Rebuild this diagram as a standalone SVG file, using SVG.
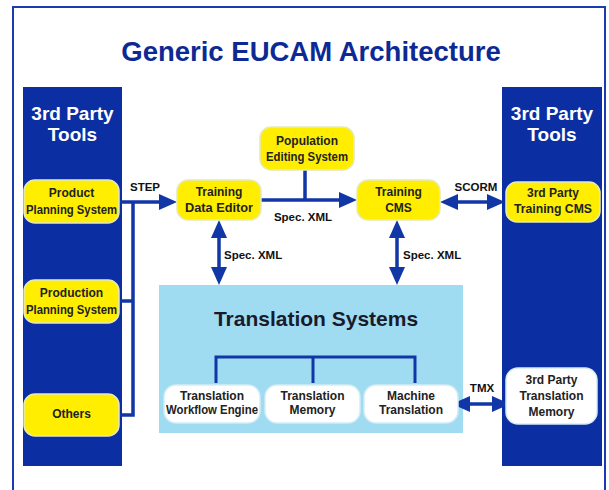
<svg xmlns="http://www.w3.org/2000/svg" width="609" height="490" viewBox="0 0 609 490">
<defs>
<style>
.panel{fill:#0b2fa3}
.ybox{fill:#ffee00;stroke:#e6e9b8;stroke-width:1.5}
.wbox{fill:#ffffff;stroke:#d4ecf6;stroke-width:1.5}
.lbl{font-family:"Liberation Sans",Arial,sans-serif;font-weight:bold;font-size:12px;fill:#222;text-anchor:middle}
.ptitle{font-family:"Liberation Sans",Arial,sans-serif;font-weight:bold;font-size:19px;fill:#ffffff;text-anchor:middle}
.clbl{font-family:"Liberation Sans",Arial,sans-serif;font-weight:bold;font-size:11.5px;fill:#111}
.ln{stroke:#1136a6;stroke-width:3.5;fill:none}
.thin{stroke:#1136a6;stroke-width:3;fill:none}
</style>
<marker id="ah" markerUnits="userSpaceOnUse" markerWidth="18" markerHeight="16" viewBox="0 0 18 16" refX="4" refY="8" orient="auto-start-reverse">
<path d="M0,0 L18,8 L0,16 z" fill="#1136a6"/>
</marker>
</defs>
<rect x="0" y="0" width="609" height="490" fill="#ffffff"/>
<rect x="13" y="7" width="592" height="495" fill="none" stroke="#1a3cb0" stroke-width="2"/>
<text x="311" y="61" font-family="Liberation Sans,Arial,sans-serif" font-weight="bold" font-size="27.5" fill="#0d2a94" text-anchor="middle">Generic EUCAM Architecture</text>

<g id="left-panel">
<rect class="panel" x="23" y="87" width="99" height="379"/>
<text class="ptitle" x="72.5" y="120">3rd Party</text>
<text class="ptitle" x="72.5" y="141">Tools</text>
</g>
<g id="right-panel">
<rect class="panel" x="502" y="87" width="100" height="379"/>
<text class="ptitle" x="552" y="120">3rd Party</text>
<text class="ptitle" x="552" y="141">Tools</text>
</g>
<g id="translation-systems">
<rect x="159" y="285" width="304" height="148" fill="#9fdcf2"/>
<text x="316" y="326" font-family="Liberation Sans,Arial,sans-serif" font-weight="bold" font-size="21" fill="#1a1a2a" text-anchor="middle">Translation Systems</text>
</g>

<g id="connectors">
<line class="ln" x1="119" y1="202" x2="163" y2="202" marker-end="url(#ah)"/>
<polyline class="ln" points="133,202 133,415 119,415"/>
<line class="ln" x1="119" y1="301" x2="133" y2="301"/>
<line class="ln" x1="261" y1="200" x2="343" y2="200" marker-end="url(#ah)"/>
<line class="ln" x1="305" y1="170" x2="305" y2="200"/>
<line class="ln" x1="219" y1="234" x2="219" y2="271" marker-start="url(#ah)" marker-end="url(#ah)"/>
<line class="ln" x1="397" y1="234" x2="397" y2="271" marker-start="url(#ah)" marker-end="url(#ah)"/>
<line class="ln" x1="454" y1="202" x2="491" y2="202" marker-start="url(#ah)" marker-end="url(#ah)"/>
<line class="ln" x1="466" y1="404" x2="496" y2="404" marker-start="url(#ah)" marker-end="url(#ah)"/>
<polyline class="thin" points="216,383 216,357 415,357 415,383"/>
<line class="thin" x1="313" y1="357" x2="313" y2="383"/>
<text class="clbl" x="145" y="191" text-anchor="middle">STEP</text>
<text class="clbl" x="476" y="191" text-anchor="middle">SCORM</text>
<text class="clbl" x="303" y="221" text-anchor="middle">Spec. XML</text>
<text class="clbl" x="224" y="259">Spec. XML</text>
<text class="clbl" x="403" y="259">Spec. XML</text>
<text class="clbl" x="482" y="392" text-anchor="middle">TMX</text>
</g>

<g id="product-planning">
<rect class="ybox" x="24" y="180" width="95" height="43" rx="11"/>
<text class="lbl" x="71.5" y="197">Product</text>
<text class="lbl" x="71.5" y="214" textLength="91" lengthAdjust="spacingAndGlyphs">Planning System</text>
</g>
<g id="production-planning">
<rect class="ybox" x="24" y="280" width="95" height="43" rx="11"/>
<text class="lbl" x="71.5" y="297">Production</text>
<text class="lbl" x="71.5" y="314" textLength="91" lengthAdjust="spacingAndGlyphs">Planning System</text>
</g>
<g id="others">
<rect class="ybox" x="24" y="394" width="95" height="42" rx="11"/>
<text class="lbl" x="71.5" y="418">Others</text>
</g>
<g id="training-data-editor">
<rect class="ybox" x="177" y="180" width="84" height="40" rx="11"/>
<text class="lbl" x="219" y="196">Training</text>
<text class="lbl" x="219" y="212" textLength="68" lengthAdjust="spacingAndGlyphs">Data Editor</text>
</g>
<g id="population-editing">
<rect class="ybox" x="260" y="127" width="94" height="43" rx="11"/>
<text class="lbl" x="307" y="145">Population</text>
<text class="lbl" x="307" y="161" textLength="82" lengthAdjust="spacingAndGlyphs">Editing System</text>
</g>
<g id="training-cms">
<rect class="ybox" x="357" y="180" width="83" height="40" rx="11"/>
<text class="lbl" x="398.5" y="196">Training</text>
<text class="lbl" x="398.5" y="212">CMS</text>
</g>
<g id="third-party-training-cms">
<rect class="ybox" x="506" y="182" width="94" height="40" rx="11"/>
<text class="lbl" x="553" y="197">3rd Party</text>
<text class="lbl" x="553" y="213" textLength="78" lengthAdjust="spacingAndGlyphs">Training CMS</text>
</g>
<g id="translation-workflow-engine">
<rect class="wbox" x="164" y="385" width="96" height="38" rx="12"/>
<text class="lbl" x="212" y="400">Translation</text>
<text class="lbl" x="212" y="414" textLength="92" lengthAdjust="spacingAndGlyphs">Workflow Engine</text>
</g>
<g id="translation-memory">
<rect class="wbox" x="265" y="385" width="95" height="38" rx="12"/>
<text class="lbl" x="312.5" y="400">Translation</text>
<text class="lbl" x="312.5" y="414">Memory</text>
</g>
<g id="machine-translation">
<rect class="wbox" x="364" y="385" width="94" height="38" rx="12"/>
<text class="lbl" x="411" y="400">Machine</text>
<text class="lbl" x="411" y="414">Translation</text>
</g>
<g id="third-party-translation-memory">
<rect class="wbox" x="506" y="368" width="91" height="56" rx="12"/>
<text class="lbl" x="551.5" y="384">3rd Party</text>
<text class="lbl" x="551.5" y="400">Translation</text>
<text class="lbl" x="551.5" y="416">Memory</text>
</g>
</svg>
